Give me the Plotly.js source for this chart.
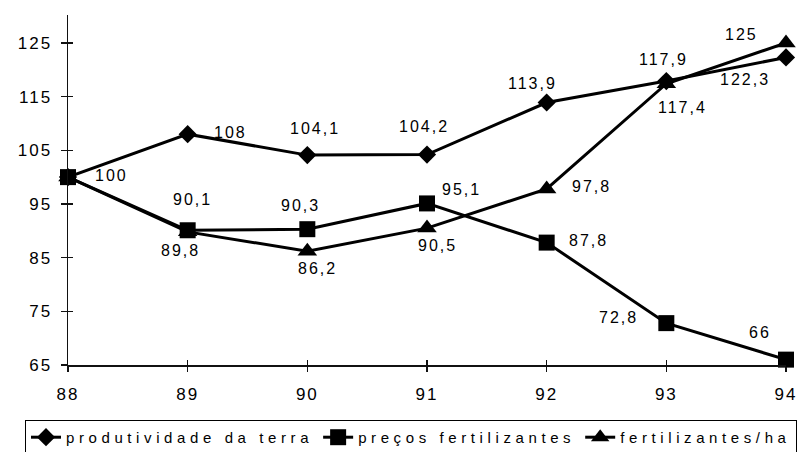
<!DOCTYPE html>
<html><head><meta charset="utf-8">
<script src="https://cdn.plot.ly/plotly-3.0.1.min.js"></script>
<style>
html,body{margin:0;padding:0;background:#fff;}
#chart{width:811px;height:452px;}
.annotation-text{letter-spacing:2px;}
.xtick text,.ytick text{letter-spacing:2px;}
.legendtext{letter-spacing:4.6px;}
</style></head><body><div id="chart"></div>
<script>
// ---- data ----
const years = [88, 89, 90, 91, 92, 93, 94];
const yearLabels = ['88', '89', '90', '91', '92', '93', '94'];
const produtividade = [100, 108, 104.1, 104.2, 113.9, 117.9, 122.3];
const precos = [100, 90.1, 90.3, 95.1, 87.8, 72.8, 66];
const fertilizantes = [100, 89.8, 86.2, 90.5, 97.8, 117.4, 125];
const seriesNames = ['produtividade da terra', 'preços fertilizantes', 'fertilizantes/ha'];
const yTicks = [65, 75, 85, 95, 105, 115, 125];

// ---- label placement (pixel offsets, style only) ----
const offProd = [[43,-2],[43,-2],[8,-27],[-3,-28],[-14,-19],[-3,-22],[-41,22]];
const offPrec = [null,[5,-31],[-7,-24],[34,-14],[42,-2],[-48,-6],[-26,-27]];
const offFert = [null,[-7,19],[10,17],[10,17],[45,-2],[16,24],[-45,-8]];

const fmt = v => String(v).replace('.', ',');
const annotations = [];
function addLabels(vals, offs) {
  vals.forEach((v, i) => {
    if (!offs[i]) return;
    annotations.push({
      x: years[i], y: v, xref: 'x', yref: 'y', text: fmt(v), showarrow: false,
      xanchor: 'center', yanchor: 'middle', xshift: offs[i][0], yshift: -offs[i][1],
      font: {size: 16, color: '#000'}
    });
  });
}
addLabels(produtividade, offProd);
addLabels(precos, offPrec);
addLabels(fertilizantes, offFert);

function tr(y, name, symbol, size, rank) {
  return {
    x: years, y: y, name: name, type: 'scatter', mode: 'lines+markers',
    line: {color: '#000', width: 3},
    marker: {symbol: symbol, size: size, color: '#000'},
    cliponaxis: false, hoverinfo: 'skip', legendrank: rank
  };
}
const data = [
  tr(produtividade, seriesNames[0], 'diamond', 14, 1),
  tr(fertilizantes, seriesNames[2], 'triangle-up', 17, 3),
  tr(precos, seriesNames[1], 'square', 16, 2),
  // invisible carrier so the overlay axes (crossing tick marks) are drawn
  {x: years, y: produtividade, xaxis: 'x2', yaxis: 'y2', type: 'scatter', mode: 'markers',
   marker: {opacity: 0, size: 1}, showlegend: false, hoverinfo: 'skip'}
];

const yRange = [65, 130.2];
const xRange = [88, 94];
const layout = {
  width: 811, height: 452,
  margin: {l: 68, r: 25, t: 15, b: 87, pad: 0, autoexpand: false},
  paper_bgcolor: '#fff', plot_bgcolor: 'rgba(0,0,0,0)',
  font: {family: 'Liberation Sans, Arial, sans-serif', size: 16, color: '#000'},
  showlegend: true,
  xaxis: {
    range: xRange, tickmode: 'array', tickvals: years, ticktext: yearLabels,
    showgrid: false, zeroline: false, showline: true, linecolor: '#111', linewidth: 1.5,
    ticks: 'outside', ticklen: 5, tickwidth: 1.2, tickcolor: '#111',
    tickfont: {size: 17}, ticklabelstandoff: 8, fixedrange: true
  },
  yaxis: {
    range: yRange, tickmode: 'array', tickvals: yTicks,
    showgrid: false, zeroline: false, showline: true, linecolor: '#111', linewidth: 1.5,
    ticks: 'outside', ticklen: 6, tickwidth: 1.2, tickcolor: '#111',
    tickfont: {size: 17}, ticklabelstandoff: 5, fixedrange: true
  },
  xaxis2: {
    overlaying: 'x', anchor: 'y2', side: 'bottom', range: xRange, tickmode: 'array', tickvals: years,
    showticklabels: false, showgrid: false, zeroline: false, showline: false,
    ticks: 'inside', ticklen: 5, tickwidth: 1.2, tickcolor: '#111', fixedrange: true
  },
  yaxis2: {
    overlaying: 'y', anchor: 'x2', side: 'left', range: yRange, tickmode: 'array', tickvals: yTicks,
    showticklabels: false, showgrid: false, zeroline: false, showline: false,
    ticks: 'inside', ticklen: 5, tickwidth: 1.2, tickcolor: '#111', fixedrange: true
  },
  legend: {
    orientation: 'h', x: -0.0599, xanchor: 'left', y: -0.157, yanchor: 'top',
    bordercolor: '#000', borderwidth: 1, bgcolor: '#fff',
    font: {size: 15, color: '#000'}, traceorder: 'normal'
  },
  annotations: annotations
};
Plotly.newPlot('chart', data, layout, {staticPlot: true, displayModeBar: false});
</script></body></html>
